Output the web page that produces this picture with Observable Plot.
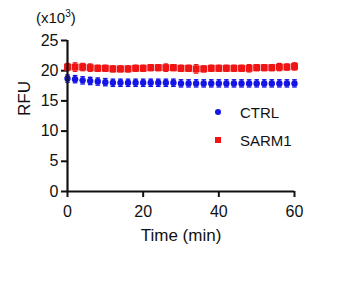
<!DOCTYPE html>
<html>
<head>
<meta charset="utf-8">
<script src="https://cdn.jsdelivr.net/npm/d3@7"></script>
<script src="https://cdn.jsdelivr.net/npm/@observablehq/plot@0.6"></script>
<style>
  html, body { margin: 0; padding: 0; background: #fff; }
  #wrap { position: relative; width: 360px; height: 281px; font-family: "Liberation Sans", Arial, sans-serif; color: #111; }
  #unit { position: absolute; left: 36px; top: 9px; font-size: 15px; line-height: 17px; }
  #unit sup { font-size: 10px; vertical-align: 6px; line-height: 0; }
  .leg { position: absolute; font-size: 15px; line-height: 17px; }
  .sw { position: absolute; }
</style>
</head>
<body>
<div id="wrap">
  <div id="unit">(x10<sup>3</sup>)</div>
</div>
<script>
const times = [0,2,4,6,8,10,12,14,16,18,20,22,24,26,28,30,32,34,36,38,40,42,44,46,48,50,52,54,56,58,60];
const ctrl = [18.7,18.6,18.4,18.3,18.2,18.1,18.0,18.0,18.0,18.0,18.0,18.0,18.0,18.0,18.0,17.9,17.9,17.9,17.9,17.9,17.9,17.9,17.9,17.9,17.9,17.9,17.9,17.9,17.9,17.9,17.9];
const sarm1 = [20.6,20.6,20.6,20.5,20.4,20.4,20.3,20.3,20.3,20.4,20.4,20.5,20.5,20.5,20.5,20.4,20.4,20.3,20.3,20.4,20.4,20.4,20.4,20.4,20.4,20.5,20.5,20.5,20.6,20.6,20.7];
const ctrlErr = [0.6,0.6,0.6,0.6,0.6,0.6,0.6,0.6,0.6,0.6,0.6,0.6,0.6,0.6,0.6,0.6,0.6,0.6,0.6,0.6,0.6,0.6,0.6,0.6,0.6,0.6,0.6,0.6,0.6,0.6,0.6];
const sarm1Err = [0.6,0.7,0.6,0.6,0.5,0.5,0.5,0.5,0.5,0.5,0.5,0.5,0.5,0.6,0.5,0.5,0.5,0.7,0.5,0.5,0.5,0.5,0.5,0.5,0.6,0.5,0.5,0.5,0.6,0.5,0.6];
const series = ["CTRL", "SARM1"];
const colors = ["#1414e6", "#f01414"];
const xTicks = [0, 20, 40, 60];
const yTicks = [0, 5, 10, 15, 20, 25];

const rows = [];
times.forEach((t, i) => {
  rows.push({series: "CTRL", t, v: ctrl[i], e: ctrlErr[i]});
  rows.push({series: "SARM1", t, v: sarm1[i], e: sarm1Err[i]});
});
const colorOf = s => colors[series.indexOf(s)];
const capSymbol = { draw(ctx, size) { const w = Math.sqrt(size) / 2; ctx.moveTo(-w, 0); ctx.lineTo(w, 0); } };

const plot = Plot.plot({
  width: 360,
  height: 281,
  marginLeft: 67,
  marginRight: 66,
  marginTop: 40,
  marginBottom: 90,
  style: { fontFamily: "Liberation Sans, Arial, sans-serif", fontSize: "16px", color: "#111", background: "#fff" },
  x: { domain: [0, 60] },
  y: { domain: [0, 25] },
  marks: [
    Plot.axisY({ ticks: yTicks, tickSize: 6, tickPadding: 3, strokeWidth: 2, stroke: "#111", fontSize: 16,
      label: null }),
    Plot.axisX({ ticks: xTicks, tickSize: 6, tickPadding: 8, strokeWidth: 2, stroke: "#111", fontSize: 16,
      label: null }),
    Plot.text(["RFU"], { frameAnchor: "left", dx: -43, rotate: -90, fontSize: 17, fill: "#111", text: d => d }),
    Plot.text(["Time (min)"], { frameAnchor: "bottom", dy: 49, fontSize: 17, fill: "#111", text: d => d }),
    Plot.ruleX(rows, { x: "t", y1: d => d.v - d.e, y2: d => d.v + d.e, stroke: d => colorOf(d.series), strokeWidth: 1.5 }),
    Plot.dot(rows, { x: "t", y: d => d.v + d.e, symbol: capSymbol, r: 2.6, stroke: d => colorOf(d.series), strokeWidth: 1.3 }),
    Plot.dot(rows, { x: "t", y: d => d.v - d.e, symbol: capSymbol, r: 2.6, stroke: d => colorOf(d.series), strokeWidth: 1.3 }),
    Plot.dot(rows.filter(d => d.series === "CTRL"), { x: "t", y: "v", r: 3.2, fill: colorOf("CTRL"), symbol: "circle" }),
    Plot.dot(rows.filter(d => d.series === "SARM1"), { x: "t", y: "v", r: 3.9, fill: colorOf("SARM1"), symbol: "square" }),
    Plot.ruleY([0], { stroke: "#111", strokeWidth: 2.2 }),
    Plot.ruleX([0], { stroke: "#111", strokeWidth: 2.2 })
  ]
});
const wrap = document.getElementById("wrap");
wrap.prepend(plot);

// legend
series.forEach((s, i) => {
  const yc = [113, 141][i];
  const sw = document.createElement("div");
  sw.className = "sw";
  const size = 6;
  sw.style.left = (218 - size / 2) + "px";
  sw.style.top = (yc - 1 - size / 2) + "px";
  sw.style.width = size + "px";
  sw.style.height = size + "px";
  sw.style.background = colors[i];
  sw.style.borderRadius = i === 0 ? "50%" : "0";
  wrap.appendChild(sw);
  const t = document.createElement("div");
  t.className = "leg";
  t.style.left = "240px";
  t.style.top = (yc - 9) + "px";
  t.textContent = s;
  wrap.appendChild(t);
});
</script>
</body>
</html>
